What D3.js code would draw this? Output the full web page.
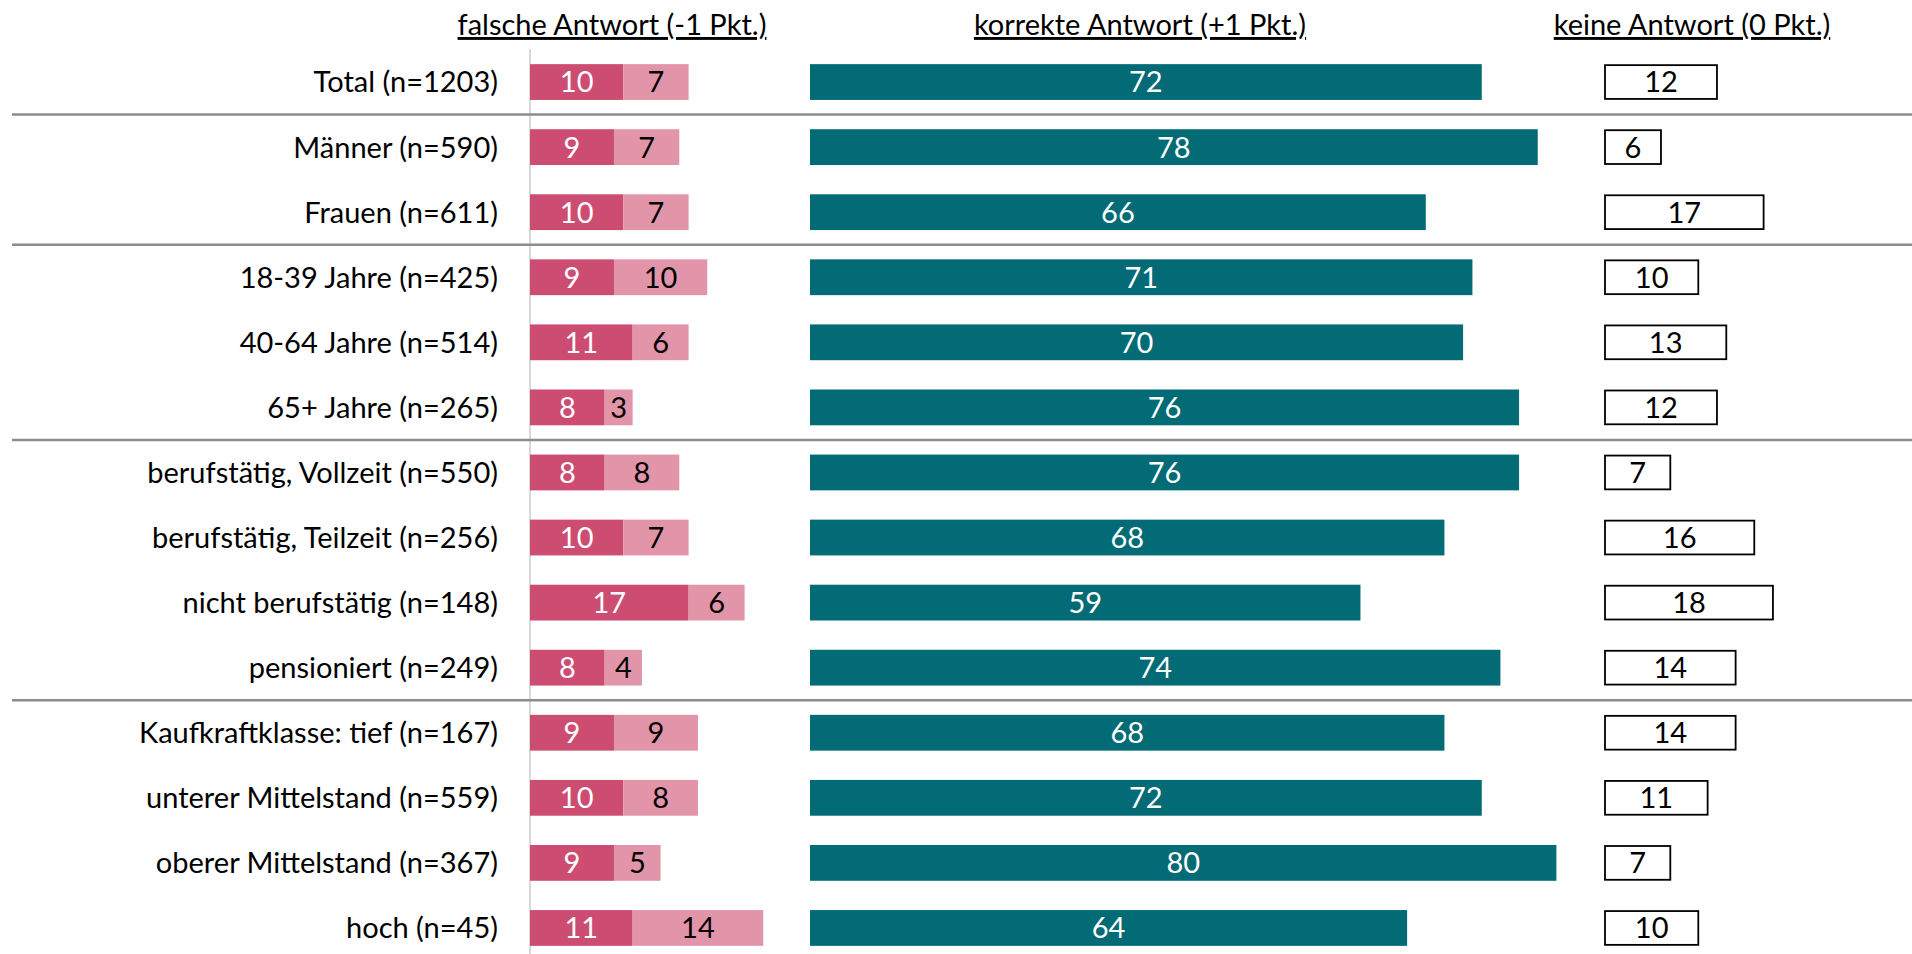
<!DOCTYPE html>
<meta charset="utf-8">

<head>
    <style>
        body {
            margin: 0;
            background: white;
        }

        text {
            font-family: Lato, "Open Sans", sans-serif;
            font-size: 29px;
        }

        .header {
            text-decoration: underline;
        }
    </style>
</head>

<body>
    <script src="https://d3js.org/d3.v7.min.js"></script>

    <div id="chart"></div>

    <script>
        // data
        var groups = ["Total", "Männer", "Frauen", "18-39 Jahre", "40-64 Jahre", "65+ Jahre",
            "berufstätig, Vollzeit", "berufstätig, Teilzeit", "nicht berufstätig", "pensioniert",
            "Kaufkraftklasse: tief", "unterer Mittelstand", "oberer Mittelstand", "hoch"];
        var sampleSizes = [1203, 590, 611, 425, 514, 265, 550, 256, 148, 249, 167, 559, 367, 45];
        var wrongA = [10, 9, 10, 9, 11, 8, 8, 10, 17, 8, 9, 10, 9, 11];
        var wrongB = [7, 7, 7, 10, 6, 3, 8, 7, 6, 4, 9, 8, 5, 14];
        var correct = [72, 78, 66, 71, 70, 76, 76, 68, 59, 74, 68, 72, 80, 64];
        var noAnswer = [12, 6, 17, 10, 13, 12, 7, 16, 18, 14, 14, 11, 7, 10];
        var headers = ["falsche Antwort (-1 Pkt.)", "korrekte Antwort (+1 Pkt.)", "keine Antwort (0 Pkt.)"];
        var breaksAfter = [0, 2, 5, 9]; // grey line under these rows

        var width = 1912, height = 954;

        var svg = d3.select("#chart").append("svg")
            .attr("width", width)
            .attr("height", height);

        var rows = groups.map(function (g, i) {
            return {
                label: g + " (n=" + sampleSizes[i] + ")",
                a: wrongA[i], b: wrongB[i], c: correct[i], d: noAnswer[i]
            };
        });

        // one band per row
        var y = d3.scaleBand()
            .domain(d3.range(rows.length))
            .range([49.5, 960.5])
            .paddingInner(0.45)
            .paddingOuter(0.225);

        // same percent scale for all three panels
        var x = d3.scaleLinear().domain([0, 100]).range([0, 933]);

        var xWrong = 530, xCorrect = 810, xNone = 1605;

        // vertical base line of the left panel
        svg.append("line")
            .attr("x1", xWrong).attr("x2", xWrong)
            .attr("y1", 49).attr("y2", height)
            .style("stroke", "#d9d9d9")
            .style("stroke-width", 2);

        // headers
        svg.selectAll(".header")
            .data(headers)
            .enter().append("text")
            .attr("class", "header")
            .attr("x", function (d, i) { return [612, 1140, 1692][i]; })
            .attr("y", 35)
            .attr("text-anchor", "middle")
            .style("fill", "black")
            .text(function (d) { return d; });

        // separators between groups
        svg.selectAll(".sep")
            .data(breaksAfter)
            .enter().append("line")
            .attr("class", "sep")
            .attr("x1", 12).attr("x2", width)
            .attr("y1", function (d) { return (y(d) + y.bandwidth() + y(d + 1)) / 2; })
            .attr("y2", function (d) { return (y(d) + y.bandwidth() + y(d + 1)) / 2; })
            .style("stroke", "#8c8c8c")
            .style("stroke-width", 2.5);

        var row = svg.selectAll(".row")
            .data(rows)
            .enter().append("g")
            .attr("class", "row")
            .attr("transform", function (d, i) { return "translate(0," + y(i) + ")"; });

        var bh = y.bandwidth();

        // row labels
        row.append("text")
            .attr("x", 498)
            .attr("y", bh / 2)
            .attr("dy", "0.36em")
            .attr("text-anchor", "end")
            .style("fill", "black")
            .text(function (d) { return d.label; });

        // wrong answers, two parts
        row.append("rect")
            .attr("x", xWrong)
            .attr("width", function (d) { return x(d.a); })
            .attr("height", bh)
            .style("fill", "#cc4d71");

        row.append("rect")
            .attr("x", function (d) { return xWrong + x(d.a); })
            .attr("width", function (d) { return x(d.b); })
            .attr("height", bh)
            .style("fill", "#e295a9");

        row.append("text")
            .attr("x", function (d) { return xWrong + x(d.a) / 2; })
            .attr("y", bh / 2).attr("dy", "0.36em")
            .attr("text-anchor", "middle")
            .style("fill", "white")
            .text(function (d) { return d.a; });

        row.append("text")
            .attr("x", function (d) { return xWrong + x(d.a) + x(d.b) / 2; })
            .attr("y", bh / 2).attr("dy", "0.36em")
            .attr("text-anchor", "middle")
            .style("fill", "black")
            .text(function (d) { return d.b; });

        // correct answers
        row.append("rect")
            .attr("x", xCorrect)
            .attr("width", function (d) { return x(d.c); })
            .attr("height", bh)
            .style("fill", "#036b75");

        row.append("text")
            .attr("x", function (d) { return xCorrect + x(d.c) / 2; })
            .attr("y", bh / 2).attr("dy", "0.36em")
            .attr("text-anchor", "middle")
            .style("fill", "white")
            .text(function (d) { return d.c; });

        // no answer (outlined boxes)
        row.append("rect")
            .attr("x", xNone)
            .attr("y", 1)
            .attr("width", function (d) { return x(d.d); })
            .attr("height", bh - 2)
            .style("fill", "white")
            .style("stroke", "black")
            .style("stroke-width", 1.8);

        row.append("text")
            .attr("x", function (d) { return xNone + x(d.d) / 2; })
            .attr("y", bh / 2).attr("dy", "0.36em")
            .attr("text-anchor", "middle")
            .style("fill", "black")
            .text(function (d) { return d.d; });
    </script>
</body>
